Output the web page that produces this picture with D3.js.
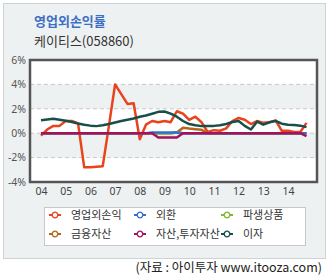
<!DOCTYPE html>
<html>
<head>
<meta charset="utf-8">
<script src="https://cdn.jsdelivr.net/npm/d3@7"></script>
<style>
  body { margin: 0; background: #fff; }
  text { font-family: "Noto Sans CJK KR", "Noto Sans", sans-serif; }
</style>
</head>
<body>
<div id="chart"></div>
<script>
// quarterly, 2004 Q1 .. 2014 Q4
var years = ['04', '05', '06', '07', '08', '09', '10', '11', '12', '13', '14'];
var yTicks = [6, 4, 2, 0, -2, -4];

var nonOp = [-0.2, 0.3, 0.6, 0.6, 1.0, 1.0, 0.8, -2.8, -2.8, -2.75, -2.7, 0.6, 4.0, 3.2, 2.4, 2.45,
    -0.5, 0.7, 1.0, 0.9, 1.0, 0.9, 1.8, 1.6, 1.1, 1.35, 0.9, 0.1, 0.25, 0.2, 0.4, 1.0,
    1.25, 1.1, 0.75, 1.0, 0.85, 0.9, 1.05, 0.2, 0.2, 0.1, 0.1, 0.85];
var fx = [0, 0, 0, 0, 0, 0, 0, 0, 0, 0, 0, 0, 0, 0, 0, 0,
    0, 0, 0.05, 0.05, 0.05, 0.05, 0.05, 0, 0, 0, 0, 0, 0, 0, 0, 0,
    0, 0, 0, 0, 0, 0, 0, 0, 0, 0, 0, 0];
var deriv = [0, 0, 0, 0, 0, 0, 0, 0, 0, 0, 0, 0, 0, 0, 0, 0,
    0, 0, 0, 0, 0, 0, 0.08, 0, 0, 0, 0, 0, 0, 0, 0, 0,
    0, 0, 0, 0, 0, 0, 0, 0, 0, 0, 0, 0];
var finAsset = [0, 0, 0, 0, 0, 0, 0, 0, 0, 0, 0, 0, 0, 0, 0, 0,
    0, 0, 0, 0, 0, 0, 0.05, 0.45, 0.38, 0.33, 0.28, 0, 0, 0, 0, 0,
    0, 0, 0, 0, 0, 0, 0, 0, 0, 0, 0, 0];
var invAsset = [0, 0, 0, 0, 0, 0, 0, 0, 0, 0, 0, 0, 0, 0, 0, 0,
    0, 0, 0, -0.35, -0.35, -0.35, -0.35, 0, 0, 0, 0, 0, 0, 0, 0, 0,
    0, 0, 0, 0, 0, 0, 0, 0, 0, 0, 0, -0.25];
var interest = [1.07, 1.12, 1.18, 1.1, 1.02, 0.92, 0.8, 0.7, 0.62, 0.58, 0.65, 0.75, 0.88, 1.0, 1.1, 1.2,
    1.35, 1.45, 1.6, 1.75, 1.78, 1.6, 1.35, 1.0, 0.75, 0.65, 0.58, 0.58, 0.6, 0.65, 0.75, 0.92,
    1.0, 0.6, 0.3, 0.95, 0.7, 0.9, 1.0, 0.78, 0.7, 0.68, 0.62, 0.5];

// legend order
var series = [
    {name: '영업외손익', values: nonOp, color: '#e8431c', z: 0},
    {name: '외환', values: fx, color: '#2f6fd0', z: 3},
    {name: '파생상품', values: deriv, color: '#7cb82f', z: 2},
    {name: '금융자산', values: finAsset, color: '#b8641c', z: 1},
    {name: '자산,투자자산', values: invAsset, color: '#a3135d', z: 4},
    {name: '이자', values: interest, color: '#184f4a', z: 5}
];

var width = 333, height = 278;
var svg = d3.select('#chart').append('svg')
    .attr('width', width)
    .attr('height', height);

// panel
svg.append('rect')
    .attr('x', 3.5).attr('y', 3.5)
    .attr('width', 322).attr('height', 255)
    .attr('fill', '#eef1f2')
    .attr('stroke', '#cdd2d4');

svg.append('text')
    .attr('x', 34).attr('y', 26)
    .attr('fill', '#3d6fc6')
    .attr('font-size', 13)
    .attr('font-weight', 'bold')
    .text('영업외손익률');
svg.append('text')
    .attr('x', 34).attr('y', 46)
    .attr('fill', '#333')
    .attr('font-size', 13)
    .text('케이티스(058860)');

var box = {left: 30, top: 60, right: 317, bottom: 182};

var x = d3.scaleLinear().domain([0, nonOp.length - 1]).range([41, 306.5]);
var y = d3.scaleLinear().domain([-4, 6]).range([box.bottom, box.top]);

// plot background and bands
svg.append('rect')
    .attr('x', box.left).attr('y', box.top)
    .attr('width', box.right - box.left).attr('height', box.bottom - box.top)
    .attr('fill', '#fff');
svg.selectAll('.band').data([[4, 2], [0, -2]]).enter().append('rect')
    .attr('x', box.left).attr('width', box.right - box.left)
    .attr('y', function(d) { return y(d[0]); })
    .attr('height', function(d) { return y(d[1]) - y(d[0]); })
    .attr('fill', '#eef1f2');

// dashed gridlines
svg.selectAll('.grid').data([4, 2, 0, -2]).enter().append('line')
    .attr('x1', box.left).attr('x2', box.right)
    .attr('y1', function(d) { return y(d); })
    .attr('y2', function(d) { return y(d); })
    .attr('stroke', '#c8c8c8')
    .attr('stroke-dasharray', '4,3');

// y axis labels
var yAxis = d3.axisLeft(y).tickValues(yTicks).tickSize(0).tickPadding(4)
    .tickFormat(function(d) { return d + '%'; });
svg.append('g')
    .attr('transform', 'translate(' + box.left + ',0)')
    .call(yAxis)
    .call(function(g) { g.select('.domain').remove(); })
    .selectAll('text')
    .attr('font-size', 10.5)
    .attr('fill', '#555')
    .style('font-family', '"Noto Sans", sans-serif');

// x axis labels
var xAxis = d3.axisBottom(x)
    .tickValues(years.map(function(d, i) { return i * 4; }))
    .tickSize(0).tickPadding(6)
    .tickFormat(function(d) { return years[d / 4]; });
svg.append('g')
    .attr('transform', 'translate(0,' + box.bottom + ')')
    .call(xAxis)
    .call(function(g) { g.select('.domain').remove(); })
    .selectAll('text')
    .attr('font-size', 10.5)
    .attr('fill', '#444')
    .style('font-family', '"Noto Sans", sans-serif');

// lines
var line = d3.line()
    .x(function(d, i) { return x(i); })
    .y(function(d) { return y(d); });

svg.selectAll('.series').data(series.slice().sort(function(a, b) { return a.z - b.z; }))
    .enter().append('path')
    .attr('class', 'series')
    .attr('d', function(s) { return line(s.values); })
    .attr('fill', 'none')
    .attr('stroke', function(s) { return s.color; })
    .attr('stroke-width', 2.5)
    .attr('stroke-linejoin', 'round');

// plot frame
svg.append('rect')
    .attr('x', box.left).attr('y', box.top)
    .attr('width', box.right - box.left).attr('height', box.bottom - box.top)
    .attr('fill', 'none')
    .attr('stroke', '#555')
    .attr('stroke-width', 2.5);

// legend
svg.append('rect')
    .attr('x', 44.5).attr('y', 207.5)
    .attr('width', 261).attr('height', 38)
    .attr('fill', '#fff')
    .attr('stroke', '#c8c8c8');

var legendX = [55, 140, 227];
var legendY = [215, 234];
var item = svg.selectAll('.legend').data(series).enter().append('g')
    .attr('transform', function(d, i) {
        return 'translate(' + legendX[i % 3] + ',' + legendY[Math.floor(i / 3)] + ')';
    });
item.append('line')
    .attr('x1', -6).attr('x2', 6)
    .attr('stroke', function(d) { return d.color; })
    .attr('stroke-width', 2);
item.append('circle')
    .attr('r', 2.8)
    .attr('fill', '#fff')
    .attr('stroke', function(d) { return d.color; })
    .attr('stroke-width', 1.3);
item.append('text')
    .attr('x', 16).attr('y', 4)
    .attr('font-size', 11)
    .attr('fill', '#333')
    .text(function(d) { return d.name; });

svg.append('text')
    .attr('x', 322).attr('y', 272)
    .attr('text-anchor', 'end')
    .attr('font-size', 12.5)
    .attr('fill', '#222')
    .text('(자료 : 아이투자 www.itooza.com)');
</script>
</body>
</html>
